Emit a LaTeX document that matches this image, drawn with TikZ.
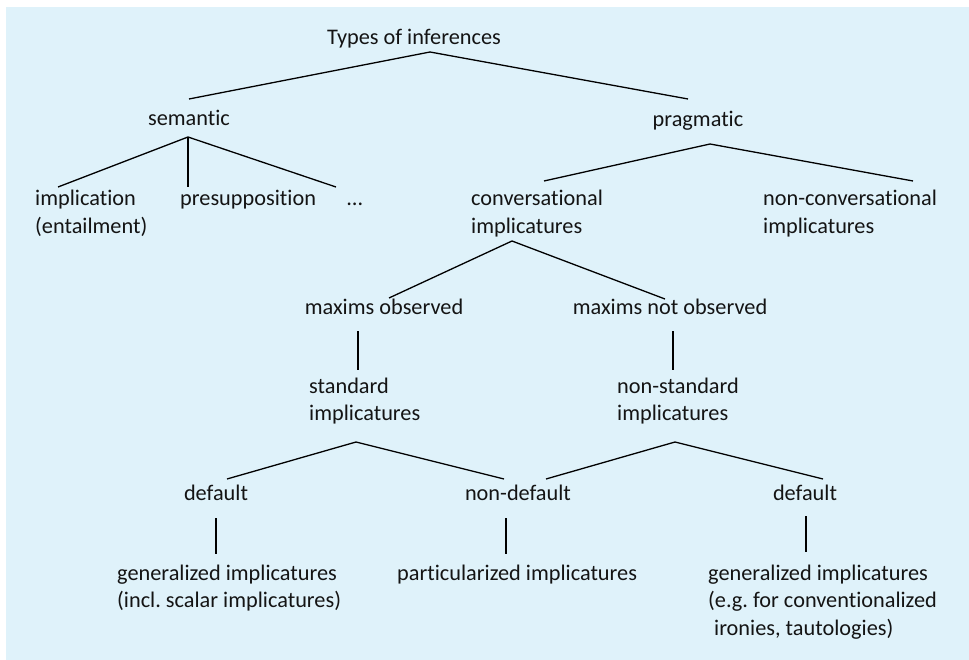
\documentclass[tikz,border=0pt]{standalone}
\usepackage{fontspec}
\setmainfont{Carlito}[Ligatures=NoCommon]
\frenchspacing
\newcommand{\treefont}{\fontsize{22.3}{27.5}\selectfont}
\definecolor{panel}{RGB}{223,242,250}
\definecolor{ink}{RGB}{20,20,20}

\begin{document}
\begin{tikzpicture}[
    x=1pt,
    y=-1pt,
    every node/.style={inner sep=0pt, font=\treefont, text=ink},
    cat/.style={anchor=base},
    leaf/.style={anchor=base west, align=left},
    branch/.style={draw=black, line width=1.3pt}
  ]

  % --- PANEL ---
  \useasboundingbox (0,0) rectangle (969,660);
  \fill[panel] (6,7) rectangle (969,660);

  % --- NODES ---
  % (multi-line leaves sit on the baseline of their last line)
  \node[cat] (types) at (414,45) {Types of inferences};
  \node[cat] (sem) at (189,126) {semantic};
  \node[cat] (prag) at (698,127) {pragmatic};

  \node[leaf] (impl) at (35,233.5) {implication\\(entailment)};
  \node[leaf] (presup) at (180,206) {presupposition};
  \node[leaf] (dots) at (347,206) {\dots};
  \node[leaf] (conv) at (471,233.5) {conversational\\implicatures};
  \node[leaf] (nonconv) at (763,233.5) {non-conversational\\implicatures};

  \node[cat] (obs) at (384,315) {maxims observed};
  \node[cat] (notobs) at (670,315) {maxims not observed};
  \node[leaf] (std) at (309,420.5) {standard\\implicatures};
  \node[leaf] (nonstd) at (617,420.5) {non-standard\\implicatures};

  \node[cat] (defl) at (216,500) {default};
  \node[cat] (nondef) at (518,500) {non-default};
  \node[cat] (defr) at (805,500) {default};
  \node[leaf] (genl) at (117,607.5) {generalized implicatures\\(incl. scalar implicatures)};
  \node[leaf] (part) at (397,580) {particularized implicatures};
  \node[leaf] (genr) at (708,635) {generalized implicatures\\(e.g. for conventionalized\\\hspace*{6pt}ironies, tautologies)};

  % --- BRANCHES ---

  % 1. top split
  \draw[branch] ([shift={(16,7)}]types.base) -- ([shift={(0,-27)}]sem.base);
  \draw[branch] ([shift={(16,7)}]types.base) -- ([shift={(-10,-28)}]prag.base);

  % 2. semantic
  \draw[branch] ([shift={(-1,11)}]sem.base) -- ([shift={(23,-46.5)}]impl.base west);
  \draw[branch] ([shift={(-1,11)}]sem.base) -- ([shift={(8,-19)}]presup.base west);
  \draw[branch] ([shift={(-1,11)}]sem.base) -- ([shift={(-11,-19)}]dots.base west);

  % 3. pragmatic
  \draw[branch] ([shift={(12,17)}]prag.base) -- ([shift={(73,-52.5)}]conv.base west);
  \draw[branch] ([shift={(12,17)}]prag.base) -- ([shift={(150,-52.5)}]nonconv.base west);

  % 4. maxims
  \draw[branch] ([shift={(41,7.5)}]conv.base west) -- ([shift={(5,-17)}]obs.base);
  \draw[branch] ([shift={(41,7.5)}]conv.base west) -- ([shift={(-5,-16)}]notobs.base);
  \draw[branch] ([shift={(-26,16)}]obs.base) -- ([shift={(49,-50.5)}]std.base west);
  \draw[branch] ([shift={(3,16)}]notobs.base) -- ([shift={(56,-50.5)}]nonstd.base west);

  % 5. default / non-default
  \draw[branch] ([shift={(47,21.5)}]std.base west) -- ([shift={(11,-21)}]defl.base);
  \draw[branch] ([shift={(47,21.5)}]std.base west) -- ([shift={(-14,-21)}]nondef.base);
  \draw[branch] ([shift={(58,21.5)}]nonstd.base west) -- ([shift={(28,-21)}]nondef.base);
  \draw[branch] ([shift={(58,21.5)}]nonstd.base west) -- ([shift={(18,-21)}]defr.base);

  % 6. bottom row
  \draw[branch] ([shift={(0,18)}]defl.base) -- ([shift={(99,-53.5)}]genl.base west);
  \draw[branch] ([shift={(-12,18)}]nondef.base) -- ([shift={(109,-26)}]part.base west);
  \draw[branch] ([shift={(1,16)}]defr.base) -- ([shift={(98,-83)}]genr.base west);

\end{tikzpicture}
\end{document}
